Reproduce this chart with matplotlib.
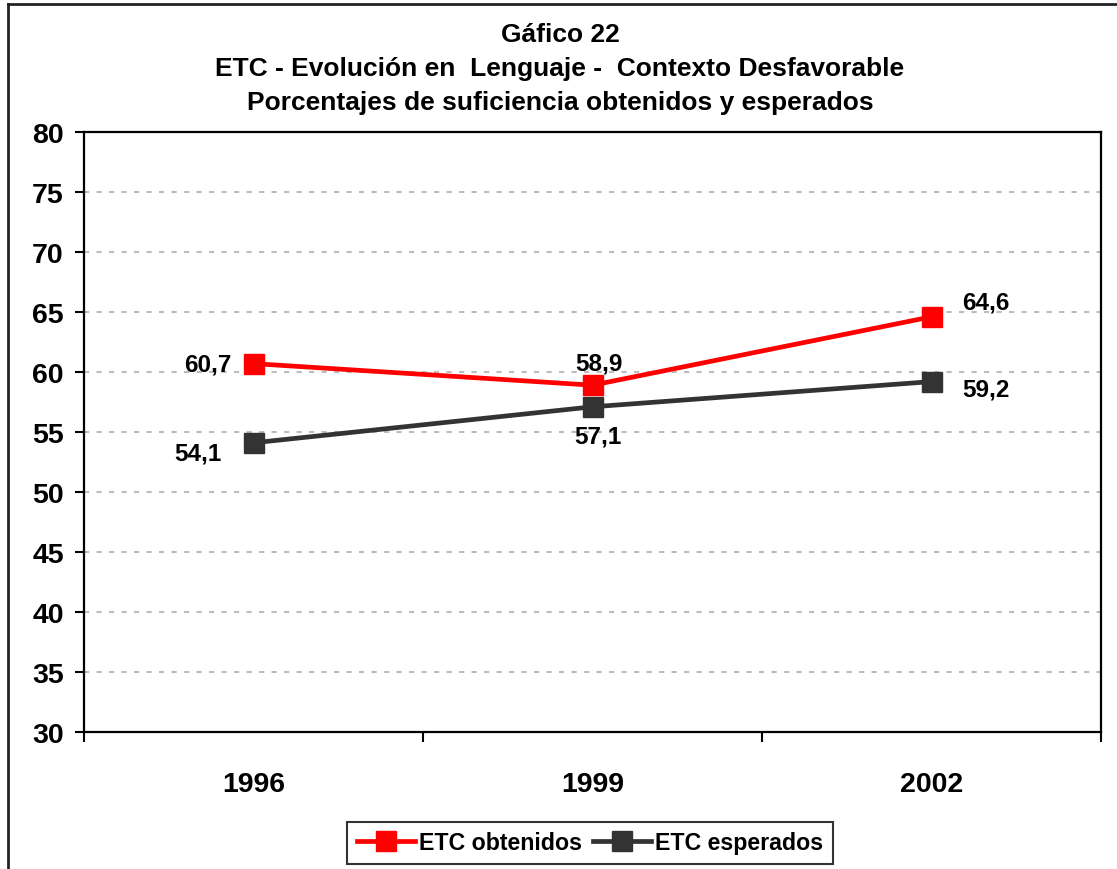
import matplotlib.pyplot as plt
from matplotlib.lines import Line2D

plt.rcParams['font.family'] = ['Liberation Sans', 'DejaVu Sans']
plt.rcParams['font.weight'] = 'bold'

# datos
anios = ['1996', '1999', '2002']
obtenidos = [60.7, 58.9, 64.6]
esperados = [54.1, 57.1, 59.2]
y_ticks = [30, 35, 40, 45, 50, 55, 60, 65, 70, 75, 80]

rojo = '#FF0000'
gris = '#333333'

fig = plt.figure(figsize=(11.17, 8.70), dpi=100)
ax = fig.add_axes([84/1117, 1 - 733/870, (1101 - 84)/1117, (733 - 133)/870])

x = list(range(len(anios)))
ax.plot(x, esperados, color=gris, lw=3.4, marker='s', ms=14.5,
        mec=gris, mfc=gris, label='ETC esperados', zorder=3)
ax.plot(x, obtenidos, color=rojo, lw=3.4, marker='s', ms=14.5,
        mec=rojo, mfc=rojo, label='ETC obtenidos', zorder=4)

ax.set_xlim(-0.5, 2.5)
ax.set_ylim(30, 80)
ax.set_yticks(y_ticks)
ax.set_yticklabels([str(v) for v in y_ticks], fontsize=20.5, fontweight='bold')
ax.set_xticks(x)
ax.set_xticklabels(anios, fontsize=20.5, fontweight='bold')
ax.set_xticks([-0.5, 0.5, 1.5, 2.5], minor=True)
ax.tick_params(axis='x', which='major', length=0, pad=28)
ax.tick_params(axis='x', which='minor', length=7, width=1.5, direction='out')
ax.tick_params(axis='y', length=6.5, width=1.5, direction='out', pad=8)

for v in y_ticks[1:-1]:
    ax.axhline(v, color='#BDBDBD', lw=1.5, ls=(0, (2.5, 3.5)), zorder=1)

for s in ax.spines.values():
    s.set_linewidth(1.6)
    s.set_color('black')

# etiquetas de datos (desplazamiento en puntos)
off_obt = [(-16, 0, 'right', 'center'), (5, 16, 'center', 'center'), (22, 11, 'left', 'center')]
off_esp = [(-23, -7, 'right', 'center'), (4, -21, 'center', 'center'), (22, -5, 'left', 'center')]
for i in x:
    dx, dy, ha, va = off_obt[i]
    ax.annotate(f'{obtenidos[i]:.1f}'.replace('.', ','), (i, obtenidos[i]),
                xytext=(dx, dy), textcoords='offset points', ha=ha, va=va,
                fontsize=17.5, fontweight='bold')
    dx, dy, ha, va = off_esp[i]
    ax.annotate(f'{esperados[i]:.1f}'.replace('.', ','), (i, esperados[i]),
                xytext=(dx, dy), textcoords='offset points', ha=ha, va=va,
                fontsize=17.5, fontweight='bold')

# titulo
titulo = ['Gáfico 22',
          'ETC - Evolución en  Lenguaje -  Contexto Desfavorable',
          'Porcentajes de suficiencia obtenidos y esperados']
for k, t in enumerate(titulo):
    fig.text(560/1117, 1 - (35 + 34*k)/870, t, ha='center', va='center',
             fontsize=19, fontweight='bold')

# leyenda
handles = [Line2D([], [], color=rojo, lw=3.4, marker='s', ms=14.5, mec=rojo),
           Line2D([], [], color=gris, lw=3.4, marker='s', ms=14.5, mec=gris)]
leg = fig.legend(handles, ['ETC obtenidos', 'ETC esperados'], loc='center',
                 bbox_to_anchor=(590/1117, 1 - 844/870), ncol=2,
                 prop={'size': 16.7, 'weight': 'bold'}, frameon=True,
                 fancybox=False, edgecolor='black', handlelength=2.5,
                 handletextpad=0.2, columnspacing=0.45, borderpad=0.42,
                 borderaxespad=0)
leg.get_frame().set_linewidth(1.5)

# marco exterior
fig.add_artist(Line2D([8/1117, 1], [1 - 5/870, 1 - 5/870], color='#222222', lw=2,
                      transform=fig.transFigure))
fig.add_artist(Line2D([8/1117, 8/1117], [0, 1 - 5/870], color='#222222', lw=2,
                      transform=fig.transFigure))

fig.savefig('out.png', dpi=100)
